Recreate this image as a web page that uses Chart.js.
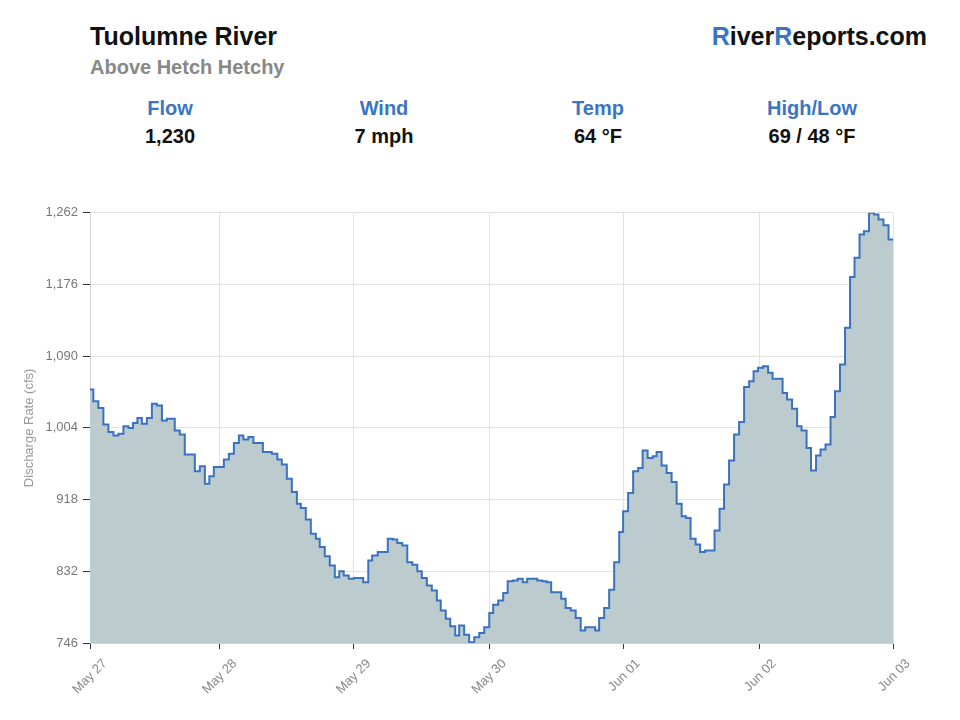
<!DOCTYPE html>
<html>
<head>
<meta charset="utf-8">
<script src="https://cdn.jsdelivr.net/npm/chart.js@4.4.1/dist/chart.umd.min.js"></script>
<style>
  html, body { margin: 0; padding: 0; background: #fff; }
  body { width: 960px; height: 720px; position: relative; overflow: hidden;
         font-family: "Liberation Sans", Arial, Helvetica, sans-serif; }
  .title { position: absolute; left: 90px; top: 22px; font-size: 25px; font-weight: bold; color: #111; }
  .sub { position: absolute; left: 90px; top: 56px; font-size: 20px; font-weight: bold; color: #888; }
  .brand { position: absolute; right: 33px; top: 22px; font-size: 25px; font-weight: bold; color: #111; }
  .brand span { color: #3a75c4; }
  .stats { position: absolute; left: 63px; top: 97px; width: 856px; display: flex; }
  .stat { width: 214px; text-align: center; font-weight: bold; font-size: 20px; }
  .stat .lbl { color: #3a75c4; height: 28px; }
  .stat .val { color: #111; }
  #wrap { position: absolute; left: 0; top: 200px; width: 960px; height: 520px; }
</style>
</head>
<body>
<div class="title">Tuolumne River</div>
<div class="sub">Above Hetch Hetchy</div>
<div class="brand"><span>R</span>iver<span>R</span>eports.com</div>
<div class="stats">
  <div class="stat"><div class="lbl">Flow</div><div class="val">1,230</div></div>
  <div class="stat"><div class="lbl">Wind</div><div class="val">7 mph</div></div>
  <div class="stat"><div class="lbl">Temp</div><div class="val">64 °F</div></div>
  <div class="stat"><div class="lbl">High/Low</div><div class="val">69 / 48 °F</div></div>
</div>
<div id="wrap"><canvas id="flowChart"></canvas></div>
<script>
// x tick labels and where they sit on the time axis (hours)
var dayLabels = ['May 27', 'May 28', 'May 29', 'May 30', 'Jun 01', 'Jun 02', 'Jun 03'];
var tickHours = [0, 23.3, 47.3, 71.6, 95.6, 120.0, 144];
var yTicks = [746, 832, 918, 1004, 1090, 1176, 1262];

// step start times (hours from first tick) and discharge (cfs)
var hours = [0, 0.6, 1.5, 2.4, 3.3, 4.2, 5.1, 6.0, 6.9, 7.7,
  8.5, 9.3, 10.2, 11.1, 12.0, 12.9, 13.8, 15.2, 16.1, 17.0,
  18.8, 19.7, 20.6, 21.4, 22.2, 24.0, 24.9, 25.8, 26.7, 27.5,
  28.4, 29.3, 31.0, 32.6, 33.6, 34.4, 35.3, 36.2, 37.1, 37.8,
  38.7, 39.6, 40.5, 41.2, 42.1, 43.0, 43.9, 44.7, 45.5, 46.4,
  47.3, 49.0, 49.9, 50.6, 51.6, 53.4, 54.3, 55.1, 56.0, 56.9,
  57.8, 58.7, 59.5, 60.4, 61.3, 62.2, 62.9, 63.8, 64.6, 65.5,
  66.2, 67.1, 68.0, 68.9, 69.8, 70.7, 71.6, 72.3, 73.2, 74.1,
  74.9, 75.8, 76.7, 77.6, 78.4, 80.2, 81.1, 81.9, 82.7, 84.5,
  85.3, 86.2, 87.1, 88.0, 88.8, 90.6, 91.3, 92.2, 93.1, 94.0,
  94.9, 95.6, 96.5, 97.4, 98.3, 99.1, 100.0, 100.9, 101.6, 102.5,
  103.4, 104.3, 105.2, 106.1, 106.9, 107.7, 108.6, 109.4, 110.3, 112.0,
  112.9, 113.7, 114.6, 115.5, 116.4, 117.3, 118.2, 119.0, 119.8, 120.7,
  121.6, 122.4, 124.2, 125.0, 125.9, 126.8, 127.6, 128.5, 129.3, 130.2,
  131.0, 131.9, 132.8, 133.6, 134.5, 135.4, 136.3, 137.1, 138.0, 138.8,
  139.7, 140.6, 141.4, 142.3, 143.2, 144];
var flow = [1050, 1036, 1028, 1008, 999, 995, 997, 1006, 1004, 1010,
  1016, 1009, 1016, 1033, 1031, 1013, 1015, 1001, 996, 972,
  952, 958, 937, 946, 957, 966, 973, 986, 995, 990,
  993, 986, 975, 973, 966, 960, 943, 927, 913, 908,
  894, 877, 871, 861, 850, 839, 825, 832, 827, 823,
  824, 819, 845, 851, 855, 871, 870, 866, 863, 843,
  840, 832, 824, 815, 809, 797, 785, 775, 766, 755,
  767, 756, 747, 753, 758, 765, 782, 792, 797, 806,
  820, 821, 823, 819, 823, 821, 820, 819, 807, 799,
  788, 785, 776, 761, 765, 761, 776, 788, 810, 843,
  879, 904, 926, 952, 956, 977, 968, 970, 975, 959,
  950, 939, 913, 898, 896, 871, 864, 855, 857, 881,
  907, 936, 965, 996, 1011, 1053, 1060, 1072, 1076, 1078,
  1070, 1063, 1046, 1038, 1027, 1006, 1001, 980, 953, 971,
  978, 984, 1017, 1048, 1080, 1124, 1185, 1208, 1236, 1240,
  1262, 1260, 1254, 1247, 1230, 1230];

(function () {
  var points = hours.map(function (h, i) { return { x: h, y: flow[i] }; });
  var tickFont = { family: '"Liberation Sans", Arial, sans-serif', size: 13 };

  new Chart(document.getElementById('flowChart'), {
    type: 'line',
    data: {
      datasets: [{
        data: points,
        stepped: true,
        borderColor: '#3a72c0',
        backgroundColor: 'rgb(187, 203, 206)',
        borderWidth: 2,
        pointRadius: 0,
        fill: 'start'
      }]
    },
    options: {
      responsive: true,
      maintainAspectRatio: false,
      animation: false,
      layout: { padding: { top: 12, right: 67, left: 0, bottom: 0 } },
      plugins: { legend: { display: false }, tooltip: { enabled: false } },
      scales: {
        x: {
          type: 'linear',
          min: 0,
          max: 144,
          afterBuildTicks: function (scale) {
            scale.ticks = tickHours.map(function (h) { return { value: h }; });
          },
          afterFit: function (scale) { scale.height = 77; },
          grid: { color: '#e2e2e2', tickColor: '#333', tickLength: 6 },
          border: { color: '#d0d0d0' },
          ticks: {
            color: '#888',
            font: tickFont,
            maxRotation: 45,
            minRotation: 45,
            padding: 7,
            labelOffset: 15,
            callback: function (v) { return dayLabels[tickHours.indexOf(v)]; }
          }
        },
        y: {
          min: 746,
          max: 1262,
          afterBuildTicks: function (scale) {
            scale.ticks = yTicks.map(function (v) { return { value: v }; });
          },
          afterFit: function (scale) { scale.width = 90; },
          grid: { color: '#e2e2e2', tickColor: '#333', tickLength: 7 },
          border: { color: '#d0d0d0' },
          ticks: {
            color: '#777',
            font: tickFont,
            padding: 5,
            callback: function (v) { return v.toLocaleString('en-US'); }
          },
          title: {
            display: true,
            text: 'Discharge Rate (cfs)',
            color: '#999',
            font: tickFont,
            padding: { top: 22, bottom: 0 }
          }
        }
      }
    }
  });
})();
</script>
</body>
</html>
